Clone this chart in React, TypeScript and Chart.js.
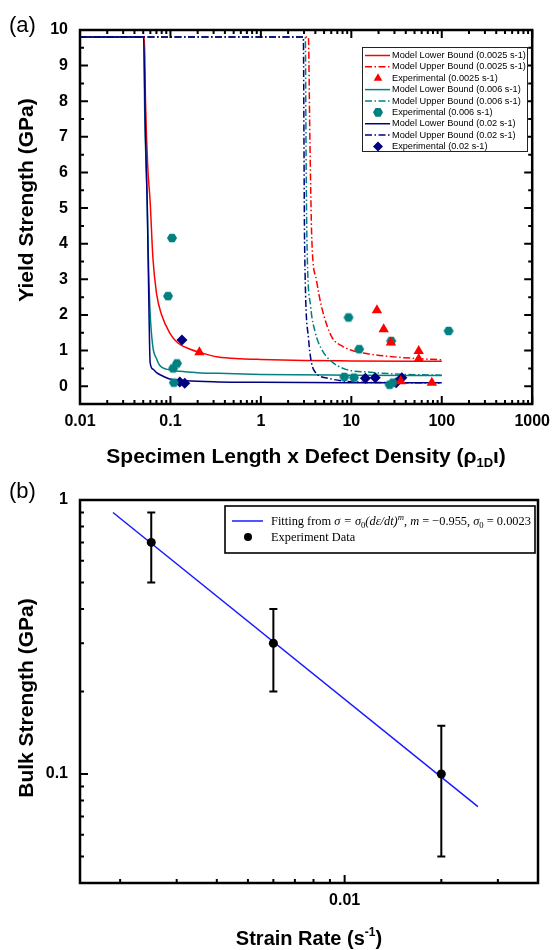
import React, { useEffect, useRef } from 'react';
import { Chart, registerables } from 'chart.js';

Chart.register(...registerables);

const SANS = "'Liberation Sans', Arial, Helvetica, sans-serif";
const SERIF = "'Liberation Serif', 'DejaVu Serif', 'Times New Roman', serif";

const RED = '#FF0000';
const TEAL = '#008080';
const NAVY = '#000080';
const FIT_BLUE = '#1a1aff';
const DASH_DOT = [7, 2.5, 1.5, 2.5];

// ---------------- Panel (a) ----------------
const A_X_TICKS = [0.01, 0.1, 1, 10, 100, 1000];
const A_X_LABELS = ['0.01', '0.1', '1', '10', '100', '1000'];
const A_Y_TICKS = [0, 1, 2, 3, 4, 5, 6, 7, 8, 9, 10];
const A_Y_LABELS = ['0', '1', '2', '3', '4', '5', '6', '7', '8', '9', '10'];

const RED_LOWER: [number, number][] = [
  [0.01, 9.8], [0.0515, 9.8], [0.053, 8.0], [0.056, 6.2], [0.0596, 5.2], [0.064, 3.6],
  [0.0702, 2.6], [0.08, 2.0], [0.098, 1.5], [0.12, 1.22], [0.16, 1.05], [0.209, 0.95],
  [0.338, 0.82], [0.6, 0.77], [1, 0.75], [3, 0.72], [10, 0.71], [100, 0.7],
];
const RED_UPPER: [number, number][] = [
  [0.01, 9.8], [3.35, 9.8], [3.48, 7.0], [3.66, 4.1], [4.1, 3.0], [4.68, 2.24], [6.03, 1.4],
  [8, 1.12], [11, 0.98], [16, 0.9], [25, 0.84], [50, 0.78], [100, 0.74],
];
const TEAL_LOWER: [number, number][] = [
  [0.01, 9.8], [0.0505, 9.8], [0.052, 7.6], [0.0553, 5.2], [0.0575, 3.2], [0.0596, 2.06],
  [0.0638, 1.12], [0.07, 0.78], [0.0763, 0.58], [0.09, 0.48], [0.126, 0.42], [0.2, 0.38],
  [0.338, 0.36], [1, 0.33], [10, 0.31], [100, 0.3],
];
const TEAL_UPPER: [number, number][] = [
  [0.01, 9.8], [3.1, 9.8], [3.16, 6.5], [3.23, 4.1], [3.55, 2.24], [4.0, 1.5], [4.68, 1.04],
  [6, 0.7], [8.55, 0.48], [16.4, 0.39], [40, 0.33], [100, 0.31],
];
const NAVY_LOWER: [number, number][] = [
  [0.01, 9.8], [0.0505, 9.8], [0.053, 7.0], [0.0553, 5.2], [0.058, 2.0], [0.0596, 0.67],
  [0.064, 0.48], [0.0702, 0.38], [0.08, 0.3], [0.098, 0.2], [0.15, 0.15], [0.338, 0.12],
  [1, 0.11], [10, 0.1], [100, 0.1],
];
const NAVY_UPPER: [number, number][] = [
  [0.01, 9.8], [2.95, 9.8], [3.0, 6.5], [3.04, 4.1], [3.37, 1.32], [3.6, 0.7], [4.0, 0.39],
  [5.6, 0.22], [11, 0.12], [30, 0.1], [100, 0.09],
];

const RED_EXP_X = [0.209, 19.2, 22.8, 27.4, 35.2, 55.6, 55.6, 77.7];
const RED_EXP_Y = [0.95, 2.13, 1.6, 1.23, 0.14, 0.99, 0.76, 0.1];
const TEAL_EXP_X = [0.094, 0.104, 0.107, 0.109, 0.118, 8.36, 9.31, 10.7, 12.2, 26.5, 27.6, 28.8, 119];
const TEAL_EXP_Y = [2.53, 4.16, 0.5, 0.1, 0.64, 0.26, 1.93, 0.24, 1.04, 0.04, 1.27, 0.1, 1.55];
const NAVY_EXP_X = [0.127, 0.134, 0.144, 14.3, 18.4, 31.3, 36.2];
const NAVY_EXP_Y = [0.12, 1.3, 0.08, 0.22, 0.24, 0.1, 0.24];

// ---------------- Panel (b) ----------------
const B_X_TICKS = [0.01];
const B_X_LABELS = ['0.01'];
const B_Y_TICKS = [0.1, 1];
const B_Y_LABELS = ['0.1', '1'];
const STRAIN_RATE = [0.0025, 0.006, 0.02];
const BULK_STRENGTH = [0.7, 0.3, 0.1];
const ERR_LOW = [0.5, 0.2, 0.05];
const ERR_HIGH = [0.9, 0.4, 0.15];
const FIT_RATE = [0.0019, 0.026];
const FIT_STRENGTH = [0.9, 0.076];

// ---------------- helpers ----------------
function hexCanvas(color: string, r: number) {
  const c = document.createElement('canvas');
  const s = Math.ceil(2 * r + 2);
  c.width = s; c.height = s;
  const ctx = c.getContext('2d')!;
  ctx.fillStyle = color;
  ctx.beginPath();
  for (let i = 0; i < 6; i++) {
    const a = (Math.PI / 3) * i;
    const px = s / 2 + r * Math.cos(a);
    const py = s / 2 + r * Math.sin(a);
    if (i) ctx.lineTo(px, py); else ctx.moveTo(px, py);
  }
  ctx.closePath();
  ctx.fill();
  return c;
}

function logTickList(minExp: number, maxExp: number) {
  const out: { v: number; major: boolean }[] = [];
  for (let e = minExp; e <= maxExp; e++) {
    for (let k = 1; k <= 9; k++) out.push({ v: +(k * Math.pow(10, e)).toPrecision(4), major: k === 1 });
  }
  return out;
}

function drawMarker(ctx: CanvasRenderingContext2D, style: any, x: number, y: number, r: number, color: string) {
  ctx.save();
  ctx.fillStyle = color;
  ctx.beginPath();
  if (style === 'triangle') {
    ctx.moveTo(x, y - r);
    ctx.lineTo(x + r * 0.866, y + r * 0.5);
    ctx.lineTo(x - r * 0.866, y + r * 0.5);
  } else if (style === 'rectRot') {
    ctx.moveTo(x - r, y); ctx.lineTo(x, y - r); ctx.lineTo(x + r, y); ctx.lineTo(x, y + r);
  } else if (style === 'circle') {
    ctx.arc(x, y, r, 0, Math.PI * 2);
  } else {
    for (let i = 0; i < 6; i++) {
      const a = (Math.PI / 3) * i;
      const px = x + r * Math.cos(a), py = y + r * Math.sin(a);
      if (i) ctx.lineTo(px, py); else ctx.moveTo(px, py);
    }
  }
  ctx.closePath();
  ctx.fill();
  ctx.restore();
}

const tickFont = { family: SANS, size: 16, weight: 'bold' as const };

function lineDs(label: string, pts: [number, number][], color: string, dashed: boolean, order: number) {
  return {
    label,
    data: pts.map(([x, y]) => ({ x, y })),
    showLine: true,
    borderColor: color,
    backgroundColor: color,
    borderWidth: 1.5,
    borderDash: dashed ? DASH_DOT : [],
    pointRadius: 0,
    cubicInterpolationMode: 'monotone' as const,
    fill: false,
    order,
  };
}

function ptDs(label: string, xs: number[], ys: number[], color: string, style: any, r: number, legendStyle: string) {
  return {
    label,
    data: xs.map((x, i) => ({ x, y: ys[i] })),
    showLine: false,
    borderColor: color,
    backgroundColor: color,
    pointStyle: style,
    pointRadius: r,
    pointBorderWidth: 0,
    legendStyle,
    order: 0,
  };
}

// ---------- plugin for panel (a) ----------
const pluginA = {
  id: 'panelA',
  afterDatasetsDraw(chart: any) {
    const { ctx, chartArea: ca, scales } = chart;
    const x = scales.x, y = scales.y;
    ctx.save();
    ctx.strokeStyle = '#000';
    ctx.lineWidth = 2;
    ctx.setLineDash([]);
    ctx.beginPath();
    for (const t of logTickList(-2, 3)) {
      if (t.v < 0.01 - 1e-9 || t.v > 1000 + 1e-6) continue;
      const px = x.getPixelForValue(t.v);
      const len = t.major ? 8 : 4;
      ctx.moveTo(px, ca.bottom); ctx.lineTo(px, ca.bottom - len);
      ctx.moveTo(px, ca.top); ctx.lineTo(px, ca.top + len);
    }
    for (let i = 0; i <= 20; i++) {
      const v = i * 0.5;
      const py = y.getPixelForValue(v);
      const len = i % 2 === 0 ? 8 : 4;
      ctx.moveTo(ca.left, py); ctx.lineTo(ca.left + len, py);
      ctx.moveTo(ca.right, py); ctx.lineTo(ca.right - len, py);
    }
    ctx.stroke();
    ctx.lineWidth = 2.5;
    ctx.strokeRect(ca.left, ca.top, ca.right - ca.left, ca.bottom - ca.top);

    // legend
    const bx = 362, by = 47, bw = 165, bh = 104;
    ctx.fillStyle = '#fff';
    ctx.fillRect(bx, by, bw, bh);
    ctx.lineWidth = 1;
    ctx.strokeStyle = '#222';
    ctx.strokeRect(bx + 0.5, by + 0.5, bw, bh);
    ctx.font = `9.2px ${SANS}`;
    ctx.textBaseline = 'middle';
    ctx.textAlign = 'left';
    chart.data.datasets.forEach((ds: any, i: number) => {
      const ly = 55.5 + i * 11.37;
      if (ds.showLine) {
        ctx.strokeStyle = ds.borderColor;
        ctx.lineWidth = 1.5;
        ctx.setLineDash(ds.borderDash);
        ctx.beginPath(); ctx.moveTo(365, ly); ctx.lineTo(390, ly); ctx.stroke();
        ctx.setLineDash([]);
      } else {
        drawMarker(ctx, ds.legendStyle, 378, ly, 5, ds.backgroundColor);
      }
      ctx.fillStyle = '#000';
      ctx.fillText(ds.label, 392, ly);
    });

    // titles
    ctx.fillStyle = '#000';
    ctx.textBaseline = 'alphabetic';
    const main = 'Specimen Length x Defect Density (ρ';
    const sub = '1D';
    const end = 'ι)';
    ctx.font = `bold 21px ${SANS}`;
    const w1 = ctx.measureText(main).width;
    const w3 = ctx.measureText(end).width;
    ctx.font = `bold 13px ${SANS}`;
    const w2 = ctx.measureText(sub).width;
    const cx = (ca.left + ca.right) / 2;
    let sx = cx - (w1 + w2 + w3) / 2;
    const base = 463;
    ctx.textAlign = 'left';
    ctx.font = `bold 21px ${SANS}`;
    ctx.fillText(main, sx, base);
    ctx.font = `bold 13px ${SANS}`;
    ctx.fillText(sub, sx + w1, base + 4);
    ctx.font = `bold 21px ${SANS}`;
    ctx.fillText(end, sx + w1 + w2, base);

    ctx.save();
    ctx.translate(33, 200);
    ctx.rotate(-Math.PI / 2);
    ctx.textAlign = 'center';
    ctx.font = `bold 21px ${SANS}`;
    ctx.fillText('Yield Strength (GPa)', 0, 0);
    ctx.restore();

    ctx.font = `22px ${SANS}`;
    ctx.textAlign = 'left';
    ctx.fillText('(a)', 9, 32);
    ctx.restore();
  },
};

// ---------- plugin for panel (b) ----------
const FIT_LABEL_SEGMENTS = [
  { t: 'Fitting from ', it: false, pos: 0 },
  { t: 'σ = σ', it: true, pos: 0 },
  { t: '0', it: false, pos: 1 },
  { t: '(dε/dt)', it: true, pos: 0 },
  { t: 'm', it: true, pos: -1 },
  { t: ', ', it: false, pos: 0 },
  { t: 'm', it: true, pos: 0 },
  { t: ' = −0.955, ', it: false, pos: 0 },
  { t: 'σ', it: true, pos: 0 },
  { t: '0', it: false, pos: 1 },
  { t: ' = 0.0023', it: false, pos: 0 },
];

const pluginB = {
  id: 'panelB',
  beforeDatasetsDraw(chart: any) {
    const { ctx, scales } = chart;
    const x = scales.x, y = scales.y;
    ctx.save();
    ctx.strokeStyle = '#000';
    ctx.lineWidth = 2;
    ctx.beginPath();
    STRAIN_RATE.forEach((r, i) => {
      const px = x.getPixelForValue(r);
      const y1 = y.getPixelForValue(ERR_HIGH[i]);
      const y2 = y.getPixelForValue(ERR_LOW[i]);
      ctx.moveTo(px, y1); ctx.lineTo(px, y2);
      ctx.moveTo(px - 4, y1); ctx.lineTo(px + 4, y1);
      ctx.moveTo(px - 4, y2); ctx.lineTo(px + 4, y2);
    });
    ctx.stroke();
    ctx.restore();
  },
  afterDatasetsDraw(chart: any) {
    const { ctx, chartArea: ca, scales } = chart;
    const x = scales.x, y = scales.y;
    ctx.save();
    ctx.strokeStyle = '#000';
    ctx.lineWidth = 2;
    ctx.beginPath();
    for (const t of logTickList(-3, -2)) {
      if (t.v <= 0.0015 || t.v >= 0.04) continue;
      const px = x.getPixelForValue(t.v);
      const len = t.major ? 8 : 4;
      ctx.moveTo(px, ca.bottom); ctx.lineTo(px, ca.bottom - len);
    }
    for (const t of logTickList(-2, 0)) {
      if (t.v <= 0.04 || t.v > 1) continue;
      const py = y.getPixelForValue(t.v);
      const len = t.major ? 8 : 4;
      ctx.moveTo(ca.left, py); ctx.lineTo(ca.left + len, py);
    }
    ctx.stroke();
    ctx.lineWidth = 2.5;
    ctx.strokeRect(ca.left, ca.top, ca.right - ca.left, ca.bottom - ca.top);

    // legend
    const bx = 225, by = 31, bw = 310, bh = 47;
    ctx.fillStyle = '#fff';
    ctx.fillRect(bx, by, bw, bh);
    ctx.lineWidth = 1.6;
    ctx.strokeStyle = '#000';
    ctx.strokeRect(bx, by, bw, bh);
    const ds0 = chart.data.datasets[0];
    const ds1 = chart.data.datasets[1];
    const l1 = by + 15, l2 = by + 31;
    ctx.strokeStyle = ds0.borderColor;
    ctx.lineWidth = 1.5;
    ctx.beginPath(); ctx.moveTo(232, l1); ctx.lineTo(263, l1); ctx.stroke();
    drawMarker(ctx, 'circle', 248, l2, 4, '#000');

    // fit text scaled to target width
    const base = 12;
    const fontFor = (it: boolean, size: number) => `${it ? 'italic ' : ''}${size}px ${SERIF}`;
    let total = 0;
    for (const s of FIT_LABEL_SEGMENTS) {
      ctx.font = fontFor(s.it, s.pos ? base * 0.7 : base);
      total += ctx.measureText(s.t).width;
    }
    const fs = (base * 260) / total;
    ctx.fillStyle = '#000';
    ctx.textAlign = 'left';
    ctx.textBaseline = 'alphabetic';
    let tx = 271;
    const tb = l1 + fs * 0.33;
    for (const s of FIT_LABEL_SEGMENTS) {
      const size = s.pos ? fs * 0.7 : fs;
      ctx.font = fontFor(s.it, size);
      const dy = s.pos === 1 ? fs * 0.25 : s.pos === -1 ? -fs * 0.45 : 0;
      ctx.fillText(s.t, tx, tb + dy);
      tx += ctx.measureText(s.t).width;
    }
    ctx.font = fontFor(false, fs);
    ctx.fillText(ds1.label, 271, l2 + fs * 0.33);

    // titles
    ctx.fillStyle = '#000';
    const main = 'Strain Rate (s';
    const sup = '-1';
    const end = ')';
    ctx.font = `bold 20px ${SANS}`;
    const w1 = ctx.measureText(main).width;
    const w3 = ctx.measureText(end).width;
    ctx.font = `bold 12px ${SANS}`;
    const w2 = ctx.measureText(sup).width;
    const cx = (ca.left + ca.right) / 2;
    const sx = cx - (w1 + w2 + w3) / 2;
    const basey = 470;
    ctx.font = `bold 20px ${SANS}`;
    ctx.fillText(main, sx, basey);
    ctx.font = `bold 12px ${SANS}`;
    ctx.fillText(sup, sx + w1, basey - 9);
    ctx.font = `bold 20px ${SANS}`;
    ctx.fillText(end, sx + w1 + w2, basey);

    ctx.save();
    ctx.translate(33, 223);
    ctx.rotate(-Math.PI / 2);
    ctx.textAlign = 'center';
    ctx.font = `bold 21px ${SANS}`;
    ctx.fillText('Bulk Strength (GPa)', 0, 0);
    ctx.restore();

    ctx.font = `22px ${SANS}`;
    ctx.textAlign = 'left';
    ctx.fillText('(b)', 9, 23);
    ctx.restore();
  },
};

export default function App() {
  const refA = useRef<HTMLCanvasElement>(null);
  const refB = useRef<HTMLCanvasElement>(null);

  useEffect(() => {
    const hexR = 5;
    const hex = hexCanvas(TEAL, hexR);
    const chartA = new Chart(refA.current!, {
      type: 'scatter',
      data: {
        datasets: [
          lineDs('Model Lower Bound (0.0025 s-1)', RED_LOWER, RED, false, 3),
          lineDs('Model Upper Bound (0.0025 s-1)', RED_UPPER, RED, true, 3),
          ptDs('Experimental (0.0025 s-1)', RED_EXP_X, RED_EXP_Y, RED, 'triangle', 6, 'triangle'),
          lineDs('Model Lower Bound (0.006 s-1)', TEAL_LOWER, TEAL, false, 2),
          lineDs('Model Upper Bound (0.006 s-1)', TEAL_UPPER, TEAL, true, 2),
          ptDs('Experimental (0.006 s-1)', TEAL_EXP_X, TEAL_EXP_Y, TEAL, hex, hexR, 'hex'),
          lineDs('Model Lower Bound (0.02 s-1)', NAVY_LOWER, NAVY, false, 1),
          lineDs('Model Upper Bound (0.02 s-1)', NAVY_UPPER, NAVY, true, 1),
          ptDs('Experimental (0.02 s-1)', NAVY_EXP_X, NAVY_EXP_Y, NAVY, 'rectRot', 5.5, 'rectRot'),
        ] as any,
      },
      options: {
        animation: false,
        responsive: false,
        devicePixelRatio: 1,
        layout: { padding: { top: 30, right: 22, left: 0, bottom: 0 } },
        plugins: { legend: { display: false }, tooltip: { enabled: false } },
        scales: {
          x: {
            type: 'logarithmic',
            min: 0.01,
            max: 1000,
            grid: { display: false, drawTicks: false },
            border: { display: false },
            afterBuildTicks: (s: any) => { s.ticks = A_X_TICKS.map((v) => ({ value: v })); },
            afterFit: (s: any) => { s.height = 71; },
            ticks: {
              autoSkip: false, maxRotation: 0, minRotation: 0, padding: 8, color: '#000', font: tickFont,
              callback: (v: any) => A_X_LABELS[A_X_TICKS.indexOf(Number(v))] ?? '',
            },
          },
          y: {
            type: 'linear',
            min: -0.5,
            max: 10,
            grid: { display: false, drawTicks: false },
            border: { display: false },
            afterBuildTicks: (s: any) => { s.ticks = A_Y_TICKS.map((v) => ({ value: v })); },
            afterFit: (s: any) => { s.width = 80; },
            ticks: {
              autoSkip: false, padding: 12, color: '#000', font: tickFont,
              callback: (v: any) => A_Y_LABELS[A_Y_TICKS.indexOf(Number(v))] ?? '',
            },
          },
        },
      } as any,
      plugins: [pluginA],
    });

    const chartB = new Chart(refB.current!, {
      type: 'scatter',
      data: {
        datasets: [
          {
            label: 'Fitting from σ = σ0(dε/dt)^m, m = −0.955, σ0 = 0.0023',
            data: FIT_RATE.map((x, i) => ({ x, y: FIT_STRENGTH[i] })),
            showLine: true,
            borderColor: FIT_BLUE,
            backgroundColor: FIT_BLUE,
            borderWidth: 1.5,
            pointRadius: 0,
            order: 1,
          },
          {
            label: 'Experiment Data',
            data: STRAIN_RATE.map((x, i) => ({ x, y: BULK_STRENGTH[i] })),
            showLine: false,
            backgroundColor: '#000',
            borderColor: '#000',
            pointRadius: 4.5,
            pointBorderWidth: 0,
            order: 0,
          },
        ] as any,
      },
      options: {
        animation: false,
        responsive: false,
        devicePixelRatio: 1,
        layout: { padding: { top: 25, right: 20, left: 0, bottom: 0 } },
        plugins: { legend: { display: false }, tooltip: { enabled: false } },
        scales: {
          x: {
            type: 'logarithmic',
            min: 0.0015,
            max: 0.04,
            grid: { display: false, drawTicks: false },
            border: { display: false },
            afterBuildTicks: (s: any) => { s.ticks = B_X_TICKS.map((v) => ({ value: v })); },
            afterFit: (s: any) => { s.height = 67; },
            ticks: {
              autoSkip: false, maxRotation: 0, minRotation: 0, padding: 8, color: '#000', font: tickFont,
              callback: (v: any) => B_X_LABELS[B_X_TICKS.indexOf(Number(v))] ?? '',
            },
          },
          y: {
            type: 'logarithmic',
            min: 0.04,
            max: 1,
            grid: { display: false, drawTicks: false },
            border: { display: false },
            afterBuildTicks: (s: any) => { s.ticks = B_Y_TICKS.map((v) => ({ value: v })); },
            afterFit: (s: any) => { s.width = 80; },
            ticks: {
              autoSkip: false, padding: 12, color: '#000', font: tickFont,
              callback: (v: any) => B_Y_LABELS[B_Y_TICKS.indexOf(Number(v))] ?? '',
            },
          },
        },
      } as any,
      plugins: [pluginB],
    });

    return () => {
      chartA.destroy();
      chartB.destroy();
    };
  }, []);

  return (
    <div style={{ position: 'absolute', left: 0, top: 0, width: 558, height: 950, background: '#fff' }}>
      <canvas ref={refA} width={558} height={475} style={{ position: 'absolute', left: 0, top: 0 }} />
      <canvas ref={refB} width={558} height={475} style={{ position: 'absolute', left: 0, top: 475 }} />
    </div>
  );
}
